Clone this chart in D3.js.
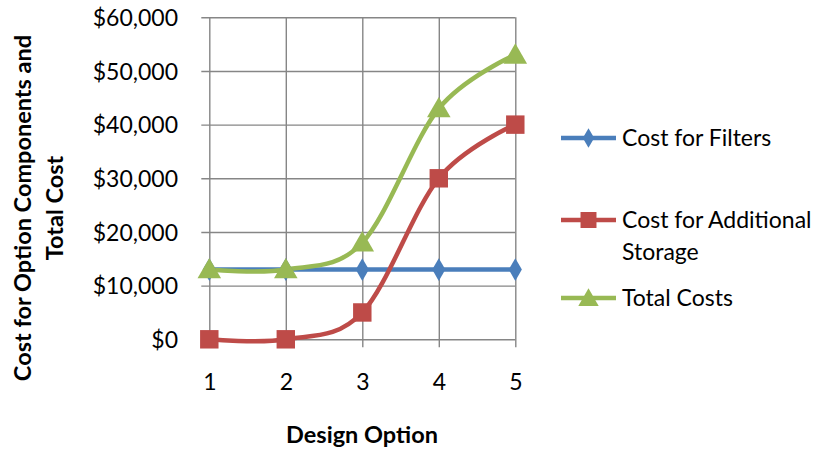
<!DOCTYPE html>
<html><head><meta charset="utf-8">
<script src="https://cdn.jsdelivr.net/npm/d3@7"></script>
<style>body{margin:0;background:#fff}svg{display:block}text{font-family:Lato,"Open Sans",sans-serif;fill:#000}</style>
</head><body><svg id="c" width="825" height="450"></svg>
<script>
const designOptions = [1, 2, 3, 4, 5];
const costFilters = [13000, 13000, 13000, 13000, 13000];
const costStorage = [0, 0, 5000, 30000, 40000];
const totalCosts = [13000, 13000, 18000, 43000, 53000];
const yTicks = [0, 10000, 20000, 30000, 40000, 50000, 60000];
const seriesNames = ["Cost for Filters", "Cost for Additional Storage", "Total Costs"];
const colors = ["#4a7ebb", "#be4b48", "#98b954"];

const svg = d3.select("#c");
const x = d3.scaleLinear().domain([1, 5]).range([209.3, 515.3]);
const y = d3.scaleLinear().domain([0, 60000]).range([339.3, 17.3]);
const grid = "#868686";
const fs = 23;

// horizontal grid + y ticks
const yAxis = d3.axisLeft(y).tickValues(yTicks).tickSize(8).tickFormat(d => "$" + d3.format(",")(d));
const gy = svg.append("g").attr("transform", `translate(${x(1)},0)`).call(yAxis);
gy.select(".domain").remove();
gy.selectAll(".tick line").attr("stroke", grid).attr("stroke-width", 1.4).attr("x2", x(5) - x(1)).attr("x1", -8);
gy.selectAll(".tick text").attr("x", 178 - x(1)).attr("font-size", fs).attr("text-anchor", "end").attr("dy", "0.35em");

// vertical grid + x ticks
const xAxis = d3.axisBottom(x).tickValues(designOptions).tickFormat(d3.format("d"));
const gx = svg.append("g").attr("transform", `translate(0,${y(0)})`).call(xAxis);
gx.select(".domain").remove();
gx.selectAll(".tick line").attr("stroke", grid).attr("stroke-width", 1.4).attr("y1", y(60000) - y(0)).attr("y2", 8);
gx.selectAll(".tick text").attr("y", 43).attr("font-size", fs).attr("dy", "0.35em");

// axis titles
svg.append("text").attr("x", 362).attr("y", 435).attr("text-anchor", "middle").attr("dy", "0.35em")
  .attr("font-size", 23.5).attr("font-weight", "bold").text("Design Option");
const yt = svg.append("text").attr("transform", "translate(23,208) rotate(-90)").attr("text-anchor", "middle")
  .attr("font-size", 23.5).attr("font-weight", "bold");
yt.append("tspan").attr("x", 0).attr("dy", "0.35em").text("Cost for Option Components and");
yt.append("tspan").attr("x", 0).attr("dy", 32).text("Total Cost");

const series = [costFilters, costStorage, totalCosts];
const symbols = [d3.symbolDiamond, d3.symbolSquare, d3.symbolTriangle];
const symSizes = [150, 340, 240];
const line = d3.line().x((d, i) => x(designOptions[i])).y(d => y(d)).curve(d3.curveCardinal.tension(0));

series.forEach((s, k) => {
  svg.append("path").datum(s).attr("d", line).attr("fill", "none").attr("stroke", colors[k]).attr("stroke-width", 4.5).attr("stroke-linejoin", "round");
});
series.forEach((s, k) => {
  svg.append("g").selectAll("path").data(s).join("path")
    .attr("transform", (d, i) => `translate(${x(designOptions[i])},${y(d) + (k === 2 ? 2 : 0)})`)
    .attr("d", d3.symbol().type(symbols[k]).size(symSizes[k])).attr("fill", colors[k]);
});

// legend
const legY = [138, 220, 298];
seriesNames.forEach((n, k) => {
  const g = svg.append("g").attr("transform", `translate(0,${legY[k]})`);
  g.append("line").attr("x1", 561).attr("x2", 616).attr("stroke", colors[k]).attr("stroke-width", 4.5);
  g.append("path").attr("transform", `translate(588.5,${k === 2 ? 2 : 0})`).attr("d", d3.symbol().type(symbols[k]).size(symSizes[k] * 0.75)).attr("fill", colors[k]);
  const t = g.append("text").attr("x", 622).attr("font-size", fs).attr("dy", "0.35em");
  if (k === 1) {
    t.append("tspan").attr("x", 622).text("Cost for Additional");
    t.append("tspan").attr("x", 622).attr("dy", 32).text("Storage");
  } else t.text(n);
});
</script></body></html>
